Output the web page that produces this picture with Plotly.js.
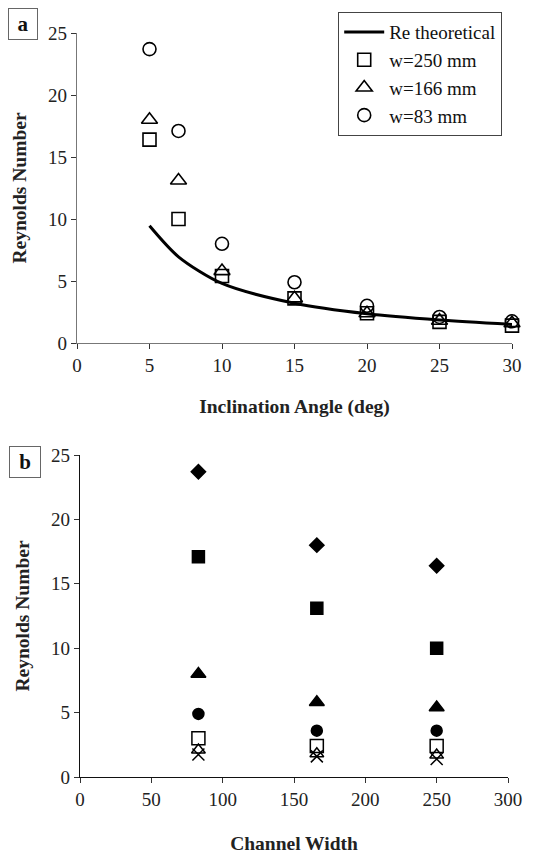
<!DOCTYPE html>
<html>
<head>
<meta charset="utf-8">
<script src="https://cdn.plot.ly/plotly-3.0.1.min.js"></script>
<style>
html,body{margin:0;padding:0;background:#fff;}
#chart{width:551px;height:856px;}
</style>
</head>
<body>
<div id="chart"></div>
<script>
// ---- data ----
const angles = [5, 7, 10, 15, 20, 25, 30];
const reTheoretical = [9.45, 6.95, 4.8, 3.2, 2.35, 1.85, 1.5];
const re250 = [16.4, 10.0, 5.4, 3.6, 2.4, 1.7, 1.4];
const re166 = [18.0, 13.1, 5.8, 3.6, 2.4, 1.8, 1.6];
const re83 = [23.7, 17.1, 8.0, 4.9, 3.0, 2.1, 1.75];
const widths = [83, 166, 250];
const seriesNames = ["Re theoretical", "w=250 mm", "w=166 mm", "w=83 mm"];
const angleSymbols = ["diamond", "square", "triangle-up", "circle", "square-open", "triangle-up-open", "x-thin-open"];
const angleSizes = [11, 12, 13, 11, 13, 12, 12];

const serif = "Liberation Serif, Times New Roman, serif";
const traces = [];
traces.push({x: angles, y: reTheoretical, type: "scatter", mode: "lines", name: seriesNames[0],
  line: {color: "#000", width: 3, shape: "spline", smoothing: 0.8}, xaxis: "x", yaxis: "y", cliponaxis: false});
traces.push({x: angles, y: re250, type: "scatter", mode: "markers", name: seriesNames[1], cliponaxis: false,
  marker: {symbol: "square-open", size: 13, color: "#000", line: {width: 1.6, color: "#000"}}, xaxis: "x", yaxis: "y"});
traces.push({x: angles, y: re166, type: "scatter", mode: "markers", name: seriesNames[2], cliponaxis: false,
  marker: {symbol: "triangle-up-open", size: 14, color: "#000", line: {width: 1.6, color: "#000"}}, xaxis: "x", yaxis: "y"});
traces.push({x: angles, y: re83, type: "scatter", mode: "markers", name: seriesNames[3], cliponaxis: false,
  marker: {symbol: "circle-open", size: 13, color: "#000", line: {width: 1.6, color: "#000"}}, xaxis: "x", yaxis: "y"});

// panel b: Re vs channel width, one series per angle
const byWidth = [re83, re166, re250];
angles.forEach((a, i) => {
  traces.push({
    x: widths, y: byWidth.map(r => r[i]), type: "scatter", mode: "markers",
    name: a + " deg", showlegend: false, cliponaxis: false,
    marker: {symbol: angleSymbols[i], size: angleSizes[i], color: "#000", line: {width: 1.5, color: "#000"}},
    xaxis: "x2", yaxis: "y2"
  });
});

const axisCommon = {
  showgrid: false, zeroline: false, showline: true, linewidth: 1.2,
  ticks: "outside", ticklen: 5, tickwidth: 1, tickcolor: "#333",
  tickfont: {family: serif, size: 19, color: "#222"}
};
const titleFont = {family: serif, size: 19.5, color: "#222", weight: "bold"};

const layout = {
  width: 551, height: 856,
  margin: {l: 0, r: 0, t: 0, b: 0},
  paper_bgcolor: "#fff", plot_bgcolor: "#fff",
  font: {family: serif, color: "#000"},
  showlegend: true,
  legend: {
    x: 502/551, xanchor: "right", y: 1 - 12/856, yanchor: "top",
    bordercolor: "#444", borderwidth: 1.2, bgcolor: "#fff",
    font: {family: serif, size: 19, color: "#111"},
    itemwidth: 40
  },
  xaxis: Object.assign({}, axisCommon, {
    domain: [77/551, 512/551], range: [0, 30], tickvals: [0,5,10,15,20,25,30],
    linecolor: "#777", anchor: "y",
    title: {text: "Inclination Angle (deg)", font: titleFont, standoff: 24}
  }),
  yaxis: Object.assign({}, axisCommon, {
    domain: [1 - 343/856, 1 - 33/856], range: [0, 25], tickvals: [0,5,10,15,20,25],
    linecolor: "#777", anchor: "x",
    title: {text: "Reynolds Number", font: titleFont, standoff: 16}
  }),
  xaxis2: Object.assign({}, axisCommon, {
    domain: [80/551, 508/551], range: [0, 300], tickvals: [0,50,100,150,200,250,300],
    linecolor: "#111", anchor: "y2",
    title: {text: "Channel Width", font: titleFont, standoff: 27}
  }),
  yaxis2: Object.assign({}, axisCommon, {
    domain: [1 - 777/856, 1 - 455/856], range: [0, 25], tickvals: [0,5,10,15,20,25],
    linecolor: "#111", anchor: "x2",
    title: {text: "Reynolds Number", font: titleFont, standoff: 16}
  }),
  annotations: [
    {text: "<b>a</b>", xref: "paper", yref: "paper", x: 23/551, y: 1 - 24/856, xanchor: "center", yanchor: "middle",
     showarrow: false, font: {family: serif, size: 21, color: "#111"}, bordercolor: "#666", borderwidth: 1, borderpad: 3, width: 22, height: 24},
    {text: "<b>b</b>", xref: "paper", yref: "paper", x: 25/551, y: 1 - 462/856, xanchor: "center", yanchor: "middle",
     showarrow: false, font: {family: serif, size: 21, color: "#111"}, bordercolor: "#666", borderwidth: 1, borderpad: 3, width: 24, height: 24}
  ]
};

Plotly.newPlot("chart", traces, layout, {displayModeBar: false, staticPlot: true});
</script>
</body>
</html>
